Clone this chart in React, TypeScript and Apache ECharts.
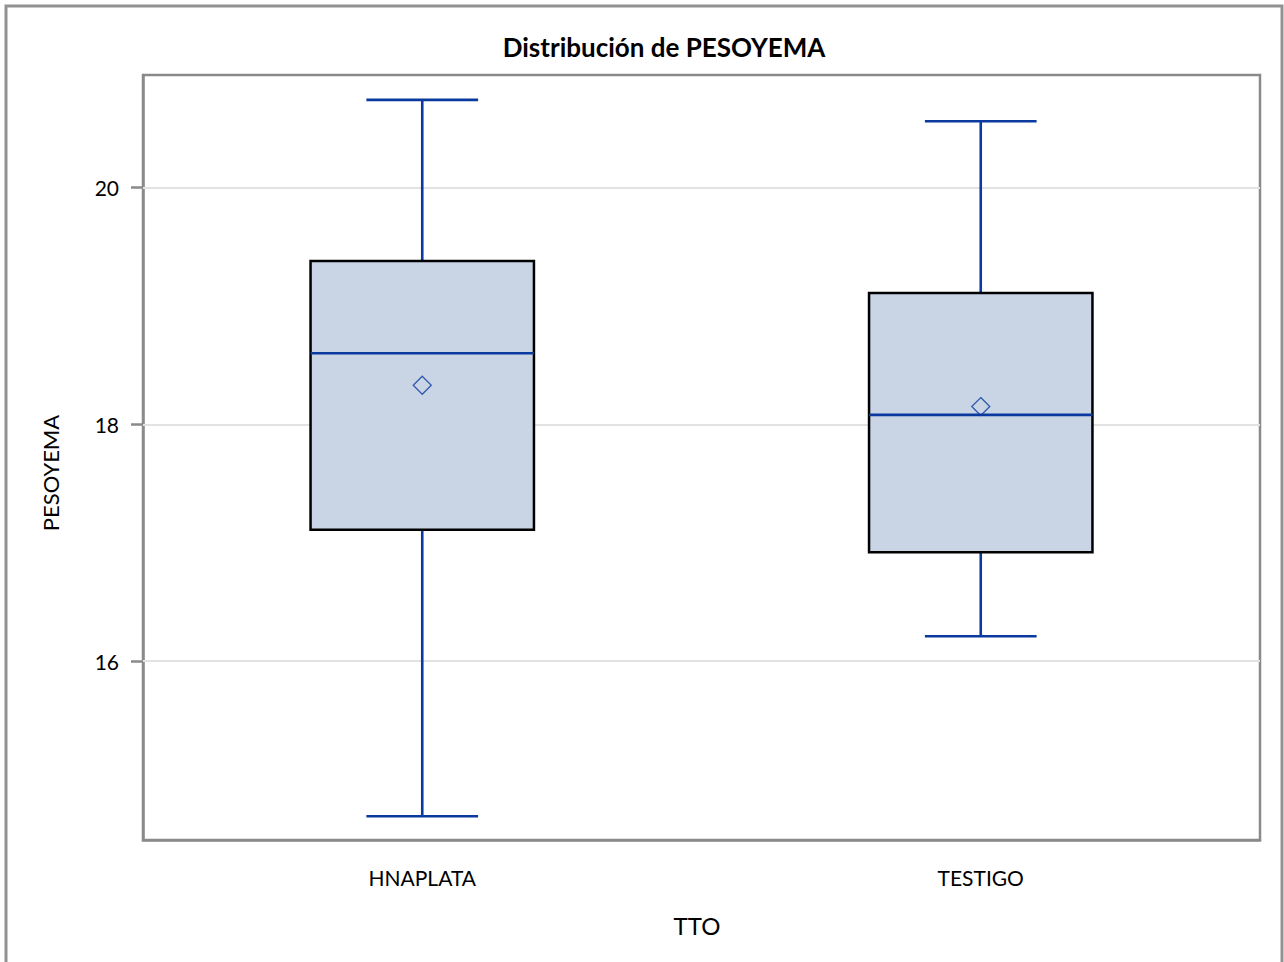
import React, { useEffect, useRef } from "react";
import * as echarts from "echarts";

// Treatment groups and their five-number summaries of PESOYEMA
const categories = ["HNAPLATA", "TESTIGO"];
const whiskerLow = [14.69, 16.21];
const quartile1 = [17.11, 16.92];
const medians = [18.6, 18.08];
const quartile3 = [19.38, 19.11];
const whiskerHigh = [20.74, 20.56];
const means = [18.33, 18.15];
const yTicks = [16, 18, 20];

const BLUE = "#0a3a9e";
const FONT = "Lato, 'Open Sans', sans-serif";

export default function App() {
  const ref = useRef<HTMLDivElement>(null);

  useEffect(() => {
    const chart = echarts.init(ref.current!, null, { renderer: "svg" });

    const boxData = categories.map((_, i) => [
      i,
      whiskerLow[i],
      quartile1[i],
      medians[i],
      quartile3[i],
      whiskerHigh[i],
    ]);

    const renderBox = (params: any, api: any) => {
      const idx = api.value(0);
      const band = api.size([1, 0])[0];
      const boxW = band * 0.4;
      const capW = boxW / 2;
      const pLow = api.coord([idx, api.value(1)]);
      const pQ1 = api.coord([idx, api.value(2)]);
      const pMed = api.coord([idx, api.value(3)]);
      const pQ3 = api.coord([idx, api.value(4)]);
      const pHigh = api.coord([idx, api.value(5)]);
      const cx = pMed[0];
      const lineStyle = { stroke: BLUE, lineWidth: 2.6, fill: null };
      return {
        type: "group",
        children: [
          { type: "line", shape: { x1: cx, y1: pHigh[1], x2: cx, y2: pQ3[1] }, style: lineStyle },
          { type: "line", shape: { x1: cx, y1: pQ1[1], x2: cx, y2: pLow[1] }, style: lineStyle },
          { type: "line", shape: { x1: cx - capW / 2, y1: pHigh[1], x2: cx + capW / 2, y2: pHigh[1] }, style: lineStyle },
          { type: "line", shape: { x1: cx - capW / 2, y1: pLow[1], x2: cx + capW / 2, y2: pLow[1] }, style: lineStyle },
          {
            type: "rect",
            shape: { x: cx - boxW / 2, y: pQ3[1], width: boxW, height: pQ1[1] - pQ3[1] },
            style: { fill: "#c9d5e5", stroke: "#000000", lineWidth: 2.5 },
          },
          { type: "line", shape: { x1: cx - boxW / 2, y1: pMed[1], x2: cx + boxW / 2, y2: pMed[1] }, style: lineStyle },
        ],
      };
    };

    chart.setOption({
      animation: false,
      backgroundColor: "#ffffff",
      textStyle: { fontFamily: FONT },
      graphic: [
        {
          type: "rect",
          shape: { x: 6, y: 6, width: 1276, height: 1000 },
          style: { fill: null, stroke: "#929292", lineWidth: 3 },
          silent: true,
          z: 100,
        },
        {
          type: "text",
          x: 664,
          y: 47,
          style: {
            text: "Distribución de PESOYEMA",
            font: `bold 26px ${FONT}`,
            fill: "#000000",
            align: "center",
            verticalAlign: "middle",
          },
        },
        {
          type: "text",
          x: 697,
          y: 925,
          style: {
            text: "TTO",
            font: `24px ${FONT}`,
            fill: "#000000",
            align: "center",
            verticalAlign: "middle",
          },
        },
        {
          type: "text",
          x: 50,
          y: 473,
          rotation: Math.PI / 2,
          style: {
            text: "PESOYEMA",
            font: `22px ${FONT}`,
            fill: "#000000",
            align: "center",
            verticalAlign: "middle",
          },
        },
      ],
      grid: {
        left: 143,
        top: 75,
        right: 24,
        bottom: 122,
        show: true,
        borderColor: "#8a8a8a",
        borderWidth: 2.5,
        backgroundColor: "transparent",
      },
      xAxis: {
        type: "category",
        data: categories,
        boundaryGap: true,
        axisLine: { lineStyle: { color: "#8a8a8a", width: 2.5 } },
        axisTick: { alignWithLabel: true, length: 12, lineStyle: { color: "#8a8a8a", width: 2.5 } },
        axisLabel: { fontSize: 21, color: "#000", margin: 27, fontFamily: FONT },
        splitLine: { show: false },
      },
      yAxis: {
        type: "value",
        min: 14.49,
        max: 20.95,
        axisLine: { show: true, lineStyle: { color: "#8a8a8a", width: 2.5 } },
        axisTick: {
          show: true,
          length: 12,
          customValues: yTicks,
          lineStyle: { color: "#8a8a8a", width: 2.5 },
        },
        axisLabel: {
          fontSize: 21,
          color: "#000",
          margin: 24,
          customValues: yTicks,
          fontFamily: FONT,
        },
        splitLine: { show: false },
      },
      series: [
        {
          type: "custom",
          renderItem: renderBox,
          data: boxData,
          encode: { x: 0, y: [1, 2, 3, 4, 5] },
          z: 3,
          markLine: {
            silent: true,
            symbol: "none",
            label: { show: false },
            lineStyle: { color: "#e2e2e2", width: 2, type: "solid" },
            data: yTicks.map((v) => ({ yAxis: v })),
            z: 1,
          },
        },
        {
          type: "scatter",
          data: categories.map((_, i) => [i, means[i]]),
          symbol: "diamond",
          symbolSize: 18,
          itemStyle: { color: "transparent", borderColor: BLUE, borderWidth: 1.3 },
          z: 5,
        },
      ],
    });

    return () => chart.dispose();
  }, []);

  return (
    <div
      ref={ref}
      style={{ position: "absolute", left: 0, top: 0, width: 1284, height: 962 }}
    />
  );
}
